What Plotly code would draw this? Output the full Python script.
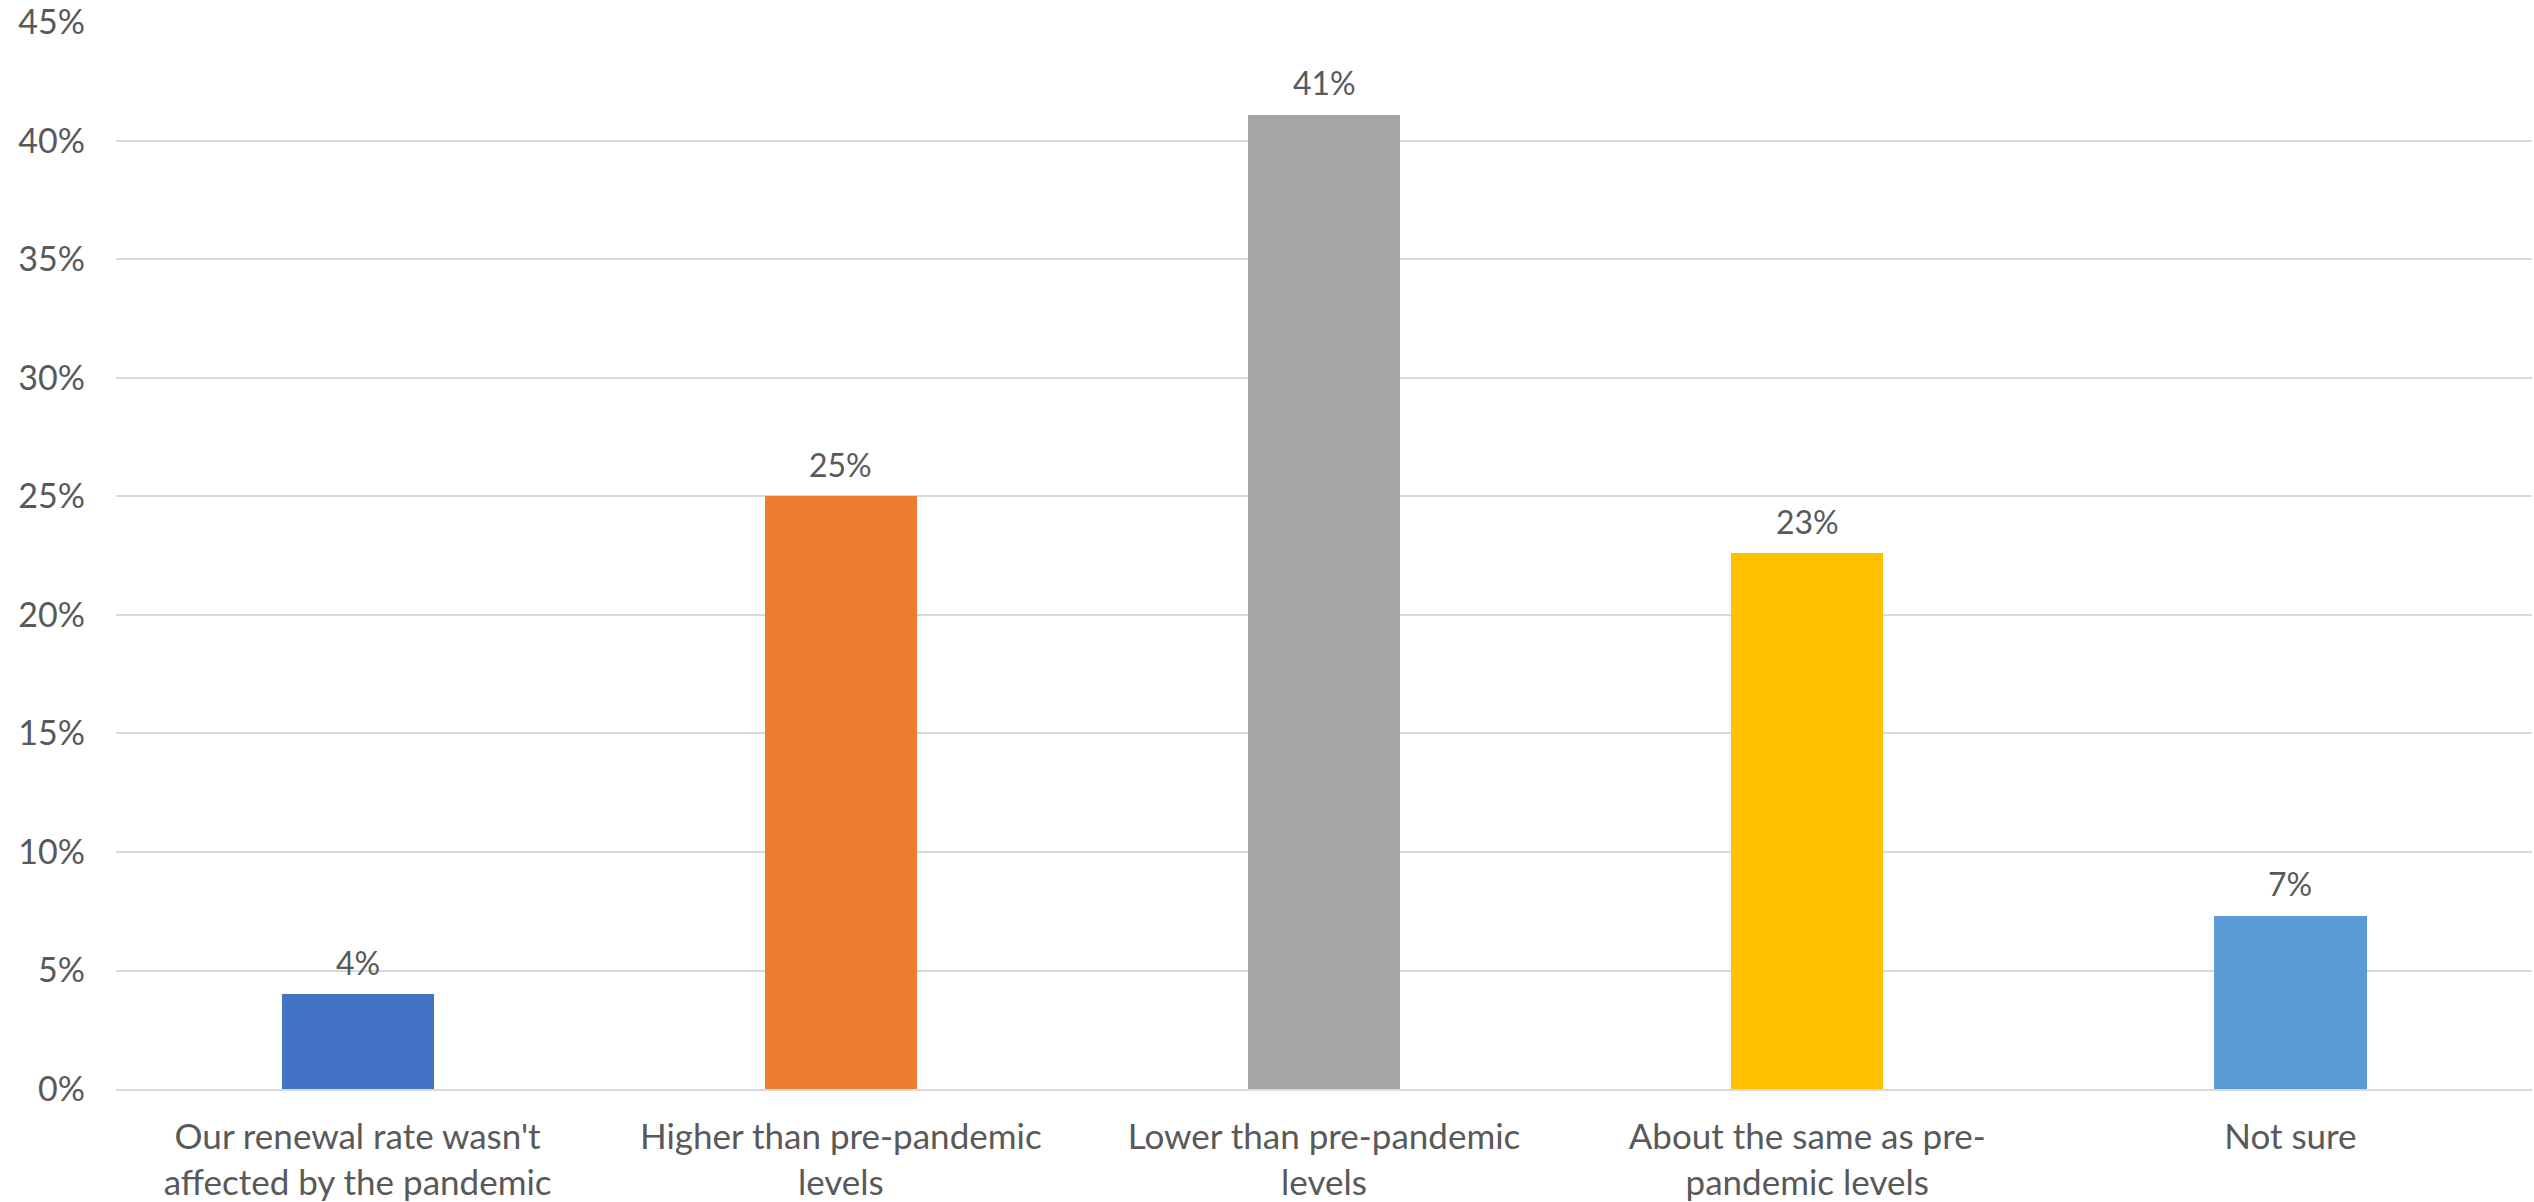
import plotly.graph_objects as go

categories = [
    "Our renewal rate wasn't<br>affected by the pandemic",
    "Higher than pre-pandemic<br>levels",
    "Lower than pre-pandemic<br>levels",
    "About the same as pre-<br>pandemic levels",
    "Not sure",
]
values = [4.0, 25.0, 41.1, 22.6, 7.3]
labels = ["4%", "25%", "41%", "23%", "7%"]
colors = ["#4472C4", "#ED7D31", "#A5A5A5", "#FFC000", "#5B9BD5"]
tick_vals = [0, 5, 10, 15, 20, 25, 30, 35, 40, 45]
tick_text = ["0%", "5%", "10%", "15%", "20%", "25%", "30%", "35%", "40%", "45%"]

FONT = "Lato"
TXT = "#595959"

fig = go.Figure()
fig.add_trace(go.Bar(
    x=categories, y=values, marker=dict(color=colors, line=dict(width=0)),
    width=0.315, hoverinfo="skip",
))
for c, v, t in zip(categories, values, labels):
    fig.add_annotation(x=c, y=v, text=t, showarrow=False, yanchor="middle",
                       yshift=32, font=dict(family=FONT, size=32, color=TXT))

fig.update_layout(
    width=2534, height=1202,
    margin=dict(l=116, r=2, t=22, b=113, autoexpand=False),
    paper_bgcolor="white", plot_bgcolor="white",
    showlegend=False,
    font=dict(family=FONT, size=32, color=TXT),
    bargap=0,
)
fig.update_yaxes(range=[0, 45.02], tickvals=tick_vals, ticktext=tick_text,
                 showgrid=True, gridcolor="#D9D9D9", gridwidth=2,
                 zeroline=False, showline=False, ticks="",
                 ticklabelstandoff=30, ticklabeloverflow="allow",
                 automargin=False,
                 tickfont=dict(family=FONT, size=34, color=TXT))
fig.update_xaxes(showgrid=False, showline=True, linecolor="#D9D9D9", linewidth=2,
                 ticks="", tickfont=dict(family=FONT, size=35, color=TXT),
                 ticklabelstandoff=16, tickangle=0, automargin=False)

fig.write_html("out.html")
